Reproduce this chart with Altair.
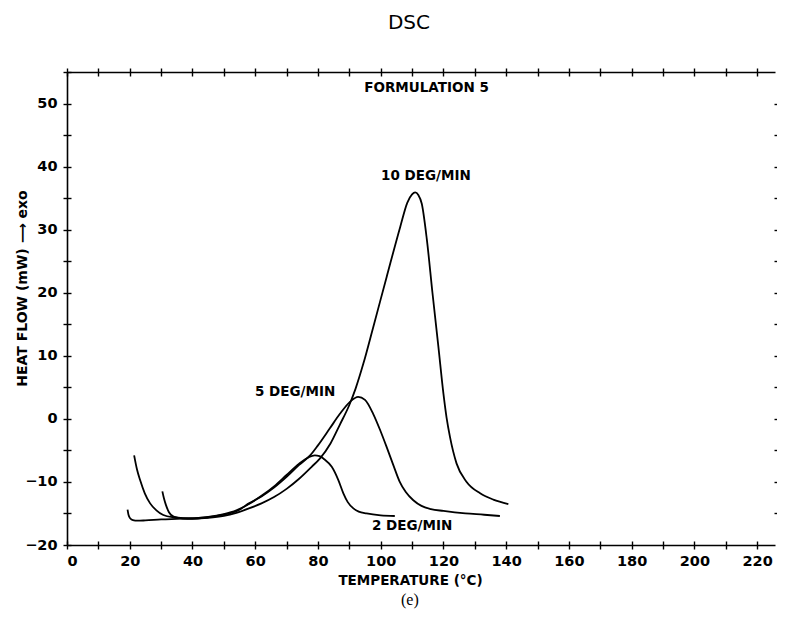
import altair as alt
import pandas as pd

# ---- data ----
t10 = [21.4, 22.3, 23.3, 24.8, 26.5, 28.5, 30.7, 33.9, 40, 45, 50, 54, 58, 62, 66, 70, 74, 78, 80.6, 84, 87, 90, 92, 94.5,
       97.6, 101.9, 106.2, 108.5, 110, 111, 112, 113.1, 114.7, 116.5, 118.4, 120, 121, 122.1, 124.2, 127.4, 131.7, 135.9, 140.7]
h10 = [-5.8, -8.0, -9.7, -11.8, -13.4, -14.5, -15.25, -15.6, -15.8, -15.7, -15.4, -14.9, -14.2, -13.4, -12.4, -11.1, -9.5, -7.6,
       -6.3, -3.9, -0.9, 2.2, 4.8, 8.8, 14.5, 22.5, 30.4, 34.3, 35.6, 35.9, 35.5, 34.1, 28.5, 20.0, 11.4, 4.0, 0.2, -2.9, -7.1,
       -10.0, -11.8, -12.8, -13.5]

t5 = [30.4, 30.9, 31.5, 32.5, 34, 37, 40, 45, 50, 55, 58, 62, 66, 70, 74, 77.5, 80, 83.8, 87, 90.2, 92.8, 95, 97.6, 100,
      102, 104, 106, 108, 110.4, 113, 116, 120, 127, 133, 138]
h5 = [-11.5, -12.6, -13.6, -14.8, -15.5, -15.8, -15.85, -15.6, -15.2, -14.4, -13.4, -12.3, -10.9, -9.2, -7.3, -5.8, -4.2, -1.5,
      0.8, 2.7, 3.5, 3.0, 0.8, -2.0, -4.6, -7.3, -9.9, -11.6, -12.9, -13.8, -14.3, -14.6, -15.0, -15.2, -15.4]

t2 = [19.3, 19.6, 20.2, 21, 22.5, 25, 30, 35, 40, 45, 50, 54, 58, 62, 66, 70, 74, 77, 79, 80.5, 82, 84.4, 86.5, 88.1,
      89.5, 91.3, 93, 95.5, 100, 104.5]
h2 = [-14.4, -15.2, -15.8, -16.05, -16.15, -16.1, -15.95, -15.85, -15.75, -15.55, -15.1, -14.5, -13.5, -12.2, -10.7, -8.9,
      -7.1, -6.1, -5.8, -5.9, -6.4, -7.6, -9.7, -11.8, -13.2, -14.2, -14.7, -15.0, -15.3, -15.4]

label_text = ["FORMULATION 5", "10 DEG/MIN", "5 DEG/MIN", "2 DEG/MIN"]
label_t = [114.6, 114.4, 72.7, 110.0]
label_h = [52.5, 38.5, 4.2, -17.0]

caption_text = ["(e)"]
caption_t = [109.3]
caption_h = [-28.8]

x_ticks = list(range(0, 230, 10))
y_ticks = list(range(-20, 60, 5))

# ---- tables ----
rows = []
for name, ts, hs in [("10 DEG/MIN", t10, h10), ("5 DEG/MIN", t5, h5), ("2 DEG/MIN", t2, h2)]:
    for i, (t, h) in enumerate(zip(ts, hs)):
        rows.append({"series": name, "i": i, "T": t, "H": h})
df = pd.DataFrame(rows)
lab = pd.DataFrame({"text": label_text, "T": label_t, "H": label_h})
cap = pd.DataFrame({"text": caption_text, "T": caption_t, "H": caption_h})

xs = alt.Scale(domain=[0, 225.7], nice=False, zero=False)
ys = alt.Scale(domain=[-20, 55], nice=False, zero=False)

FONT = "DejaVu Sans"

def xax(**kw):
    base = dict(values=x_ticks, grid=False, title="", labels=False, domain=False, tickSize=4,
                tickColor="black", tickWidth=1.4)
    base.update(kw)
    return alt.Axis(**base)

def yax(**kw):
    base = dict(values=y_ticks, grid=False, title="", labels=False, domain=False, tickSize=4,
                tickColor="black", tickWidth=1.4)
    base.update(kw)
    return alt.Axis(**base)

def line_layer(xaxis, yaxis, opacity=1.0):
    return alt.Chart(df).mark_line(color="black", strokeWidth=1.8, interpolate="monotone", opacity=opacity).encode(
        x=alt.X("T:Q", scale=xs, axis=xaxis),
        y=alt.Y("H:Q", scale=ys, axis=yaxis),
        detail="series:N",
        order="i:O",
    )

main = line_layer(
    xax(orient="bottom", labels=True, domain=True, domainColor="black", domainWidth=1.6,
        labelExpr="datum.value % 20 == 0 ? datum.label : ''", labelPadding=5,
        labelFont=FONT, labelFontWeight="bold", labelFontSize=14.5, labelColor="black",
        title="TEMPERATURE (°C)", titleFont=FONT, titleFontWeight="bold", titleFontSize=13.5,
        titleColor="black", titleX=343, titleY=35, titleBaseline="middle"),
    yax(orient="left", labels=True, domain=True, domainColor="black", domainWidth=1.6,
        labelExpr="datum.value % 10 == 0 && datum.value <= 50 ? datum.label : ''", labelPadding=6,
        labelFont=FONT, labelFontWeight="bold", labelFontSize=14.5, labelColor="black",
        title="HEAT FLOW (mW) ⟶ exo", titleFont=FONT, titleFontWeight="bold", titleFontSize=14,
        titleColor="black", titleX=-45, titleY=216, titleAngle=270, titleBaseline="middle"),
)
inner = line_layer(xax(orient="bottom", offset=-4), yax(orient="left", offset=-4), opacity=0)
top = line_layer(xax(orient="top", domain=True, domainColor="black", domainWidth=1.6),
                 yax(orient="right", offset=-1, values=list(range(-15, 55, 5))), opacity=0)
top_in = line_layer(xax(orient="top", offset=-4), None, opacity=0)

labels = alt.Chart(lab).mark_text(font=FONT, fontWeight="bold", fontSize=13.5, color="black",
                                  baseline="middle", align="center").encode(
    x=alt.X("T:Q", scale=xs, axis=None),
    y=alt.Y("H:Q", scale=ys, axis=None),
    text="text:N",
)
caption = alt.Chart(cap).mark_text(font="Liberation Serif", fontSize=16, color="black",
                                   baseline="middle", align="center").encode(
    x=alt.X("T:Q", scale=xs, axis=None),
    y=alt.Y("H:Q", scale=ys, axis=None),
    text="text:N",
)

chart = alt.layer(main, inner, top, top_in, labels, caption).resolve_axis(
    x="independent", y="independent"
).properties(
    width=708, height=473,
    padding={"left": 59, "top": 64, "right": 2, "bottom": 66},
    autosize=alt.AutoSizeParams(type="none"),
    title=alt.TitleParams("DSC", font=FONT, fontSize=20, fontWeight="normal", color="black",
                          anchor="middle", dx=-12, offset=34),
    background="white",
).configure_view(stroke="transparent")

chart.save("out.html", embed_options={"renderer": "svg", "actions": False})
